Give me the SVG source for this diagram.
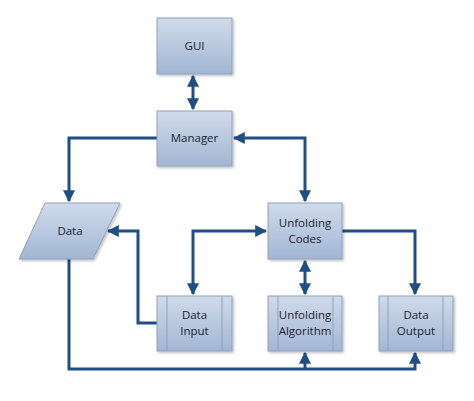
<svg xmlns="http://www.w3.org/2000/svg" width="474" height="401" viewBox="0 0 474 401">
<defs>
<linearGradient id="g" x1="0" y1="0" x2="0" y2="1">
<stop offset="0" stop-color="#d0dbeb"/>
<stop offset="1" stop-color="#a2b6d3"/>
</linearGradient>
<filter id="sh" x="-10%" y="-10%" width="130%" height="130%">
<feDropShadow dx="1.5" dy="1.5" stdDeviation="1" flood-color="#000" flood-opacity="0.25"/>
</filter>
<marker id="ah" viewBox="0 0 10 10" refX="9" refY="5" markerWidth="4" markerHeight="4" orient="auto-start-reverse" markerUnits="strokeWidth">
<path d="M0,0 L10,5 L0,10 z" fill="#1f4e85"/>
</marker>
</defs>
<style>
.box{fill:url(#g);stroke:#8fa1ba;stroke-width:1;filter:url(#sh)}
.in{stroke:#8fa1ba;stroke-width:1;fill:none}
.t{font-family:"Open Sans","Liberation Sans",sans-serif;font-size:11.5px;fill:#1c2230;text-anchor:middle}
.c{fill:none;stroke:#1f4e85;stroke-width:3}
</style>
<rect width="474" height="401" fill="#fff"/>
<g id="connectors">
<path class="c" d="M193,76 V109" marker-start="url(#ah)" marker-end="url(#ah)"/>
<path class="c" d="M157,138 H69 V201" marker-end="url(#ah)"/>
<path class="c" d="M234,138 H305 V201" marker-start="url(#ah)" marker-end="url(#ah)"/>
<path class="c" d="M266,231 H193 V294" marker-start="url(#ah)" marker-end="url(#ah)"/>
<path class="c" d="M305,261 V294" marker-start="url(#ah)" marker-end="url(#ah)"/>
<path class="c" d="M342,231 H415 V294" marker-end="url(#ah)"/>
<path class="c" d="M157,323 H138 V231 H108" marker-end="url(#ah)"/>
<path class="c" d="M69,259 V369 H415 V353" marker-end="url(#ah)"/>
<path class="c" d="M305,369 V353" marker-end="url(#ah)"/>
</g>
<g id="gui">
<rect class="box" x="157" y="18" width="75" height="56"/>
<text class="t" x="194.5" y="50">GUI</text>
</g>
<g id="manager">
<rect class="box" x="157" y="111" width="75" height="55"/>
<text class="t" x="194.5" y="142">Manager</text>
</g>
<g id="data">
<polygon class="box" points="45,203 120,203 93,259 19,259"/>
<text class="t" x="70" y="235">Data</text>
</g>
<g id="unfolding-codes">
<rect class="box" x="268" y="203" width="74" height="56"/>
<text class="t" x="305" y="227">Unfolding</text>
<text class="t" x="305" y="243">Codes</text>
</g>
<g id="data-input">
<rect class="box" x="157" y="296" width="75" height="55"/>
<path class="in" d="M167,296 V351 M222,296 V351"/>
<text class="t" x="194.5" y="319">Data</text>
<text class="t" x="194.5" y="335">Input</text>
</g>
<g id="unfolding-algorithm">
<rect class="box" x="268" y="296" width="74" height="55"/>
<path class="in" d="M278,296 V351 M333,296 V351"/>
<text class="t" x="305" y="319">Unfolding</text>
<text class="t" x="305" y="335">Algorithm</text>
</g>
<g id="data-output">
<rect class="box" x="379" y="296" width="74" height="55"/>
<path class="in" d="M388,296 V351 M443,296 V351"/>
<text class="t" x="416" y="319">Data</text>
<text class="t" x="416" y="335">Output</text>
</g>
</svg>
